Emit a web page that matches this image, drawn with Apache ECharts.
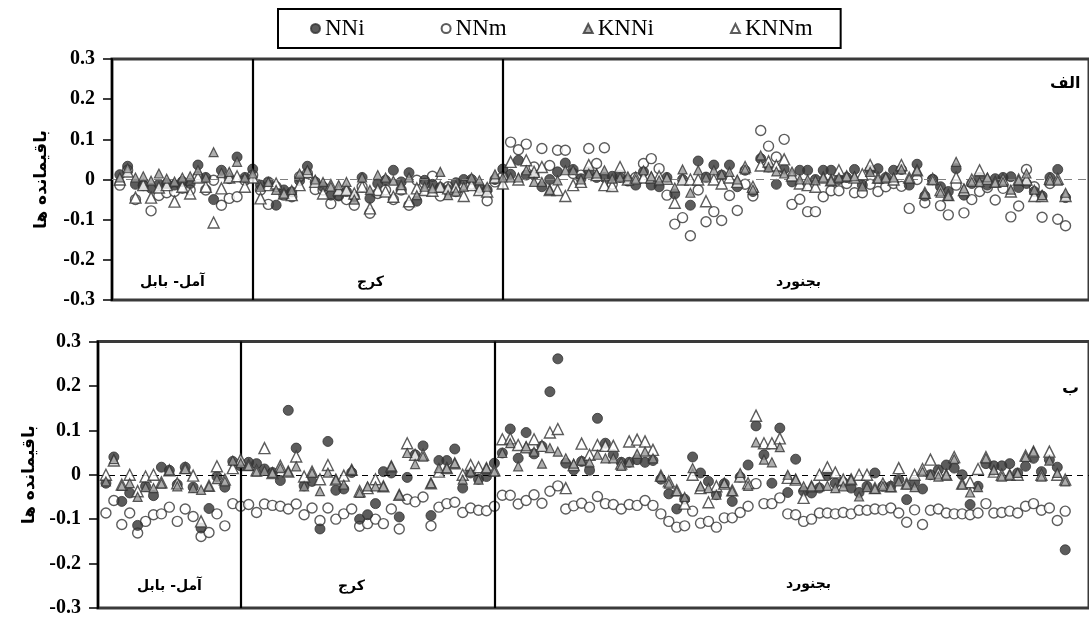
<!DOCTYPE html>
<html>
<head>
<meta charset="utf-8">
<script src="https://cdn.jsdelivr.net/npm/echarts@6/dist/echarts.min.js"></script>
<style>
  html, body { margin: 0; padding: 0; background: #fff; }
  #chart { width: 1089px; height: 619px; }
</style>
</head>
<body>
<div id="chart"></div>
<script>
// residuals, one value per sample (index 0..121), panel الف (top) and ب (bottom)
const NNi_a = [0.012,0.033,-0.012,-0.014,-0.022,-0.012,-0.010,-0.014,-0.005,-0.010,0.036,0.005,-0.050,0.023,0.002,0.056,0.005,0.026,-0.014,-0.006,-0.064,-0.026,-0.031,-0.003,0.033,-0.006,-0.018,-0.039,-0.041,-0.030,-0.043,0.005,-0.047,-0.010,-0.002,0.023,-0.006,0.017,-0.054,-0.002,-0.012,-0.020,-0.026,-0.008,0.000,0.000,-0.022,-0.026,0.000,0.026,0.013,0.048,0.011,0.011,-0.018,0.000,0.019,0.041,0.025,0.002,0.019,0.005,0.005,0.008,0.005,-0.004,-0.014,0.019,-0.014,-0.018,0.005,-0.036,0.000,-0.064,0.046,0.006,0.036,0.011,0.036,-0.018,0.023,-0.030,0.052,0.031,-0.012,0.026,-0.006,0.023,0.023,0.000,0.023,0.023,0.000,0.005,0.025,-0.014,0.023,0.027,0.005,0.023,0.025,-0.014,0.038,-0.041,0.000,-0.018,-0.030,0.027,-0.039,-0.010,0.005,-0.014,0.002,0.005,0.007,-0.020,-0.010,-0.030,-0.041,0.005,0.025,-0.045];
const NNm_a = [-0.014,0.023,-0.050,-0.015,-0.078,-0.040,-0.033,-0.030,-0.022,-0.026,0.007,-0.026,-0.002,-0.064,-0.047,-0.043,-0.002,0.011,-0.026,-0.062,-0.018,-0.039,-0.043,0.007,0.015,-0.025,-0.026,-0.060,-0.039,-0.050,-0.064,-0.018,-0.084,-0.035,-0.026,-0.050,-0.026,-0.064,-0.002,-0.010,0.008,-0.041,-0.018,-0.030,-0.014,-0.012,-0.020,-0.053,-0.006,0.007,0.093,0.074,0.088,0.031,0.077,0.035,0.073,0.073,0.015,0.011,0.077,0.040,0.079,-0.012,0.011,-0.002,0.005,0.040,0.052,0.027,-0.039,-0.111,-0.095,-0.140,-0.026,-0.105,-0.080,-0.102,-0.040,-0.077,-0.012,-0.041,0.122,0.083,0.056,0.100,-0.062,-0.049,-0.080,-0.080,-0.043,-0.028,-0.028,-0.010,-0.033,-0.033,-0.012,-0.030,-0.018,-0.010,-0.017,-0.072,0.000,-0.058,0.000,-0.065,-0.088,-0.014,-0.083,-0.050,-0.030,-0.020,-0.051,-0.022,-0.093,-0.066,0.025,-0.018,-0.094,-0.010,-0.099,-0.115];
const KNNi_a = [0.005,0.028,0.005,0.008,-0.003,0.015,0.002,-0.005,0.005,0.008,0.023,0.005,0.068,0.016,0.019,0.044,0.005,0.015,-0.018,-0.006,-0.026,-0.035,-0.026,0.015,0.023,0.000,-0.006,-0.018,-0.014,-0.006,-0.050,0.005,-0.026,0.011,0.005,-0.003,-0.014,0.005,-0.039,-0.018,-0.022,0.019,-0.039,-0.030,-0.018,0.005,-0.002,-0.018,0.013,0.005,0.005,0.005,0.023,-0.006,-0.006,-0.026,-0.002,0.023,0.023,0.000,0.015,0.015,0.023,0.002,0.005,0.008,0.000,0.023,0.008,-0.002,0.005,-0.020,0.025,-0.033,0.023,0.005,0.023,0.013,0.019,0.000,0.025,-0.025,0.060,0.030,0.020,0.015,0.020,0.000,0.000,-0.002,0.005,-0.003,0.005,0.008,0.008,-0.017,0.019,0.002,0.005,0.005,0.025,0.002,0.023,-0.036,-0.002,-0.033,-0.041,0.044,-0.022,-0.006,-0.006,0.005,-0.008,-0.006,-0.025,-0.002,0.015,-0.025,-0.039,-0.003,-0.003,-0.033];
const KNNm_a = [0.000,0.020,-0.045,-0.014,-0.045,-0.020,-0.014,-0.055,-0.018,-0.035,0.005,-0.018,-0.107,-0.022,0.005,0.008,-0.018,0.005,-0.047,-0.014,-0.010,-0.035,-0.039,-0.014,0.019,-0.006,-0.035,-0.014,-0.026,-0.026,-0.035,-0.018,-0.072,-0.026,-0.030,-0.043,-0.022,-0.054,-0.022,-0.026,-0.028,-0.018,-0.022,-0.018,-0.041,-0.014,-0.026,-0.030,0.005,-0.010,0.044,0.000,0.048,0.019,0.031,-0.026,-0.026,-0.041,-0.014,-0.006,0.036,0.011,-0.014,-0.016,0.031,0.000,0.005,0.005,0.005,0.008,0.002,-0.058,0.000,0.000,0.000,-0.054,0.000,-0.010,0.005,-0.006,0.031,-0.018,0.035,0.045,0.035,0.050,0.010,-0.010,-0.014,-0.018,0.005,-0.002,0.023,0.008,0.005,0.013,0.036,0.005,0.005,0.000,0.036,0.005,0.023,-0.033,0.002,-0.026,-0.039,0.005,-0.026,0.000,0.023,0.002,-0.006,0.000,-0.030,0.000,0.000,-0.041,-0.041,0.002,0.002,-0.041];

const NNi_b = [-0.019,0.040,-0.060,-0.041,-0.114,-0.026,-0.047,0.017,0.010,-0.022,0.017,-0.028,-0.120,-0.076,-0.004,-0.028,0.030,0.020,0.028,0.025,0.013,0.005,-0.013,0.145,0.060,-0.025,-0.015,-0.122,0.075,-0.035,-0.032,0.005,-0.100,-0.090,-0.065,0.007,0.004,-0.095,-0.006,0.045,0.065,-0.092,0.032,0.032,0.058,-0.030,0.004,-0.010,-0.004,0.026,0.049,0.103,0.037,0.095,0.047,0.064,0.187,0.261,0.026,0.011,0.030,0.010,0.127,0.071,0.045,0.028,0.028,0.034,0.028,0.032,-0.010,-0.043,-0.077,-0.055,0.040,0.004,-0.015,-0.045,-0.020,-0.060,-0.005,0.022,0.110,0.045,-0.019,0.105,-0.040,0.035,-0.037,-0.041,-0.030,-0.002,-0.019,-0.017,-0.030,-0.040,-0.026,0.004,-0.026,-0.026,-0.011,-0.056,-0.017,-0.032,0.000,0.011,0.022,0.015,0.000,-0.067,-0.026,0.025,0.020,0.020,0.025,0.004,0.019,0.037,0.007,0.034,0.017,-0.169];
const NNm_b = [-0.086,-0.058,-0.112,-0.086,-0.131,-0.105,-0.090,-0.088,-0.073,-0.105,-0.077,-0.094,-0.139,-0.130,-0.088,-0.115,-0.065,-0.071,-0.067,-0.085,-0.066,-0.069,-0.071,-0.077,-0.066,-0.090,-0.075,-0.103,-0.075,-0.100,-0.088,-0.077,-0.116,-0.110,-0.100,-0.110,-0.077,-0.122,-0.055,-0.061,-0.050,-0.115,-0.073,-0.065,-0.062,-0.085,-0.075,-0.080,-0.081,-0.071,-0.046,-0.046,-0.066,-0.058,-0.045,-0.064,-0.037,-0.025,-0.077,-0.070,-0.064,-0.073,-0.049,-0.065,-0.067,-0.077,-0.067,-0.069,-0.058,-0.069,-0.088,-0.105,-0.118,-0.115,-0.082,-0.109,-0.105,-0.118,-0.097,-0.097,-0.085,-0.071,-0.020,-0.065,-0.065,-0.052,-0.088,-0.090,-0.105,-0.100,-0.086,-0.086,-0.088,-0.085,-0.088,-0.080,-0.080,-0.077,-0.079,-0.075,-0.086,-0.107,-0.079,-0.112,-0.080,-0.077,-0.086,-0.088,-0.088,-0.090,-0.086,-0.065,-0.086,-0.085,-0.082,-0.086,-0.071,-0.065,-0.080,-0.075,-0.103,-0.082];
const KNNi_b = [-0.015,0.035,-0.025,-0.019,-0.050,-0.028,-0.030,-0.020,0.010,-0.026,0.013,-0.030,-0.034,-0.026,-0.010,-0.015,0.032,0.026,0.020,0.007,0.009,0.004,0.015,0.007,0.019,-0.026,0.004,-0.037,0.005,-0.011,-0.022,0.011,-0.041,-0.026,-0.026,-0.026,0.019,-0.045,0.049,0.024,0.041,-0.019,0.015,0.015,0.026,-0.011,0.007,-0.011,0.015,0.007,0.049,0.071,0.019,0.064,0.052,0.025,0.060,0.052,0.037,0.025,0.032,0.028,0.045,0.037,0.037,0.020,0.028,0.047,0.052,0.037,-0.004,-0.020,-0.037,-0.050,0.015,-0.026,-0.030,-0.045,-0.019,-0.037,0.004,-0.025,0.073,0.034,0.028,0.062,0.000,-0.010,-0.026,-0.026,-0.026,-0.025,-0.030,-0.026,-0.011,-0.049,-0.028,-0.032,-0.026,-0.028,-0.015,-0.022,-0.028,0.007,0.000,-0.004,0.000,0.035,-0.022,-0.040,-0.028,0.037,0.011,-0.004,0.000,0.004,0.040,0.052,-0.004,0.032,0.004,-0.015];
const KNNm_b = [0.000,0.032,-0.022,0.000,-0.037,-0.004,0.000,-0.017,0.010,-0.019,0.015,-0.002,-0.105,-0.025,0.019,-0.011,0.015,0.034,0.022,0.010,0.060,0.004,0.020,0.007,0.041,-0.004,0.007,-0.010,0.022,-0.011,-0.002,0.011,-0.037,-0.030,-0.010,-0.026,0.019,-0.045,0.071,0.045,0.045,-0.019,0.007,0.015,0.026,0.000,0.022,0.017,0.015,0.010,0.080,0.082,0.067,0.062,0.080,0.065,0.095,0.103,-0.030,0.022,0.070,0.045,0.067,0.065,0.065,0.025,0.075,0.079,0.075,0.056,-0.002,-0.015,-0.035,-0.065,0.000,-0.030,-0.062,-0.026,-0.020,-0.035,-0.004,-0.019,0.133,0.071,0.071,0.082,-0.007,-0.011,-0.052,-0.026,0.000,0.017,0.005,-0.011,-0.010,0.000,0.000,-0.030,-0.020,-0.026,0.015,-0.020,0.000,0.013,0.034,0.004,0.000,0.040,-0.020,-0.017,0.013,0.040,0.007,0.000,0.000,0.000,0.043,0.052,0.000,0.052,0.000,-0.011];

const seriesNames = ['NNi', 'NNm', 'KNNi', 'KNNm'];
const regionNames = ['آمل- بابل', 'کرج', 'بجنورد'];
const regionBreaks = [17, 49];          // sample index where the vertical divider falls
const yTicks = [-0.3, -0.2, -0.1, 0, 0.1, 0.2, 0.3];
const axisName = 'باقیمانده ها';
const panelNames = ['الف', 'ب'];

const serif = 'Liberation Serif';
const persian = 'DejaVu Sans';

function pts(arr) {
  return arr.map((v, i) => [i, v]);
}

const styles = {
  NNi:  {symbol: 'circle',   symbolSize: 10, itemStyle: {color: '#333', borderColor: '#333', borderWidth: 1}},
  NNm:  {symbol: 'circle',   symbolSize: 10, itemStyle: {color: '#fff', borderColor: '#333', borderWidth: 1.4}},
  KNNi: {symbol: 'triangle', symbolSize: 9,  itemStyle: {color: '#9a9a9a', borderColor: '#333', borderWidth: 1.2}},
  KNNm: {symbol: 'triangle', symbolSize: 11, itemStyle: {color: '#fff', borderColor: '#333', borderWidth: 1.4}}
};

function panelSeries(idx, data, zeroColor, zeroDash) {
  // draw order: open circles, filled circles, open triangles, gray triangles
  const order = ['NNm', 'NNi', 'KNNm', 'KNNi'];
  return order.map((name, k) => {
    const s = {
      name: name,
      type: 'scatter',
      xAxisIndex: idx,
      yAxisIndex: idx,
      data: pts(data[name]),
      symbol: styles[name].symbol,
      symbolSize: styles[name].symbolSize,
      itemStyle: styles[name].itemStyle,
      z: 3 + k,
      silent: true
    };
    if (k === 0) {
      s.markLine = {
        silent: true,
        symbol: ['none', 'none'],
        label: {show: false},
        animation: false,
        data: [
          {yAxis: 0, lineStyle: {color: zeroColor, width: 1.2, type: zeroDash}},
          ...regionBreaks.map(b => ({xAxis: b, lineStyle: {color: '#000', width: 2.2, type: 'solid'}}))
        ]
      };
    }
    return s;
  });
}

const chart = echarts.init(document.getElementById('chart'), null, {renderer: 'canvas'});

const grids = [
  {left: 112, top: 59, width: 984, height: 241},
  {left: 98, top: 341.5, width: 1000, height: 266.5}
];

function yAxisFor(i, gap) {
  return {
    type: 'value',
    gridIndex: i,
    min: yTicks[0],
    max: yTicks[yTicks.length - 1],
    interval: 0.1,
    name: axisName,
    nameLocation: 'middle',
    nameGap: gap,
    nameTextStyle: {fontFamily: persian, fontWeight: 'bold', fontSize: 17, color: '#000'},
    axisLine: {show: true, onZero: false, lineStyle: {color: '#000', width: 2}},
    axisTick: {show: true, inside: false, length: 9, lineStyle: {color: '#000', width: 1.5}},
    axisLabel: {
      margin: 17,
      fontFamily: serif, fontWeight: 'bold', fontSize: 20, color: '#000',
      formatter: v => {
        const t = yTicks.find(x => Math.abs(x - v) < 1e-6);
        return t === 0 ? '0' : t.toFixed(1);
      }
    },
    splitLine: {show: false}
  };
}

function xAxisFor(i) {
  return {
    type: 'value', gridIndex: i, min: -1, max: 124,
    axisLine: {show: false, onZero: false}, axisTick: {show: false}, axisLabel: {show: false}, splitLine: {show: false}
  };
}

function label(text, x, y, size) {
  return {
    type: 'text', left: x, top: y,
    style: {text: text, fontFamily: persian, fontWeight: 'bold', fontSize: size, fill: '#000'}
  };
}

chart.setOption({
  animation: false,
  backgroundColor: '#fff',
  legend: {
    data: seriesNames,
    left: 278, top: 9,
    padding: [8, 28, 8, 32],
    itemGap: 76,
    itemWidth: 9, itemHeight: 9,
    borderColor: '#000', borderWidth: 2,
    textStyle: {fontFamily: serif, fontSize: 23, color: '#000'},
    selectedMode: false
  },
  grid: grids.map(g => Object.assign({show: true, borderColor: '#3a3a3a', borderWidth: 3, backgroundColor: 'transparent'}, g)),
  xAxis: [xAxisFor(0), xAxisFor(1)],
  yAxis: [yAxisFor(0, 62), yAxisFor(1, 47)],
  graphic: [
    label(regionNames[0], 140, 275, 14),
    label(regionNames[1], 357, 275, 14),
    label(regionNames[2], 776, 275, 14),
    label(regionNames[0], 137, 579, 14),
    label(regionNames[1], 338, 579, 14),
    label(regionNames[2], 786, 577, 14),
    label(panelNames[0], 1050, 76, 16),
    label(panelNames[1], 1062, 380, 17)
  ],
  series: [
    ...panelSeries(0, {NNi: NNi_a, NNm: NNm_a, KNNi: KNNi_a, KNNm: KNNm_a}, '#808080', [8, 6]),
    ...panelSeries(1, {NNi: NNi_b, NNm: NNm_b, KNNi: KNNi_b, KNNm: KNNm_b}, '#000', [6, 5])
  ]
});
</script>
</body>
</html>
